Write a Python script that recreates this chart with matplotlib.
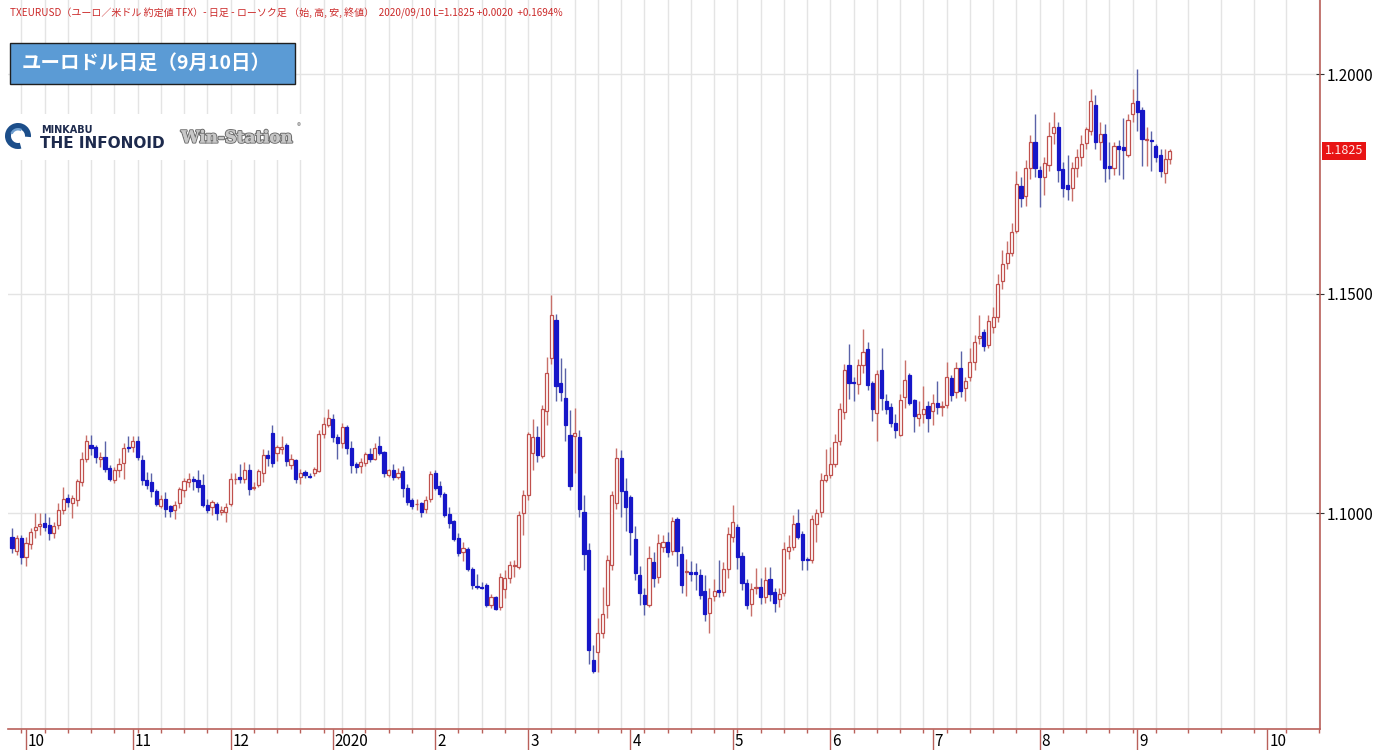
import matplotlib
matplotlib.use("Agg")
import matplotlib.pyplot as plt
import matplotlib.patches as mpatches
import matplotlib.patheffects as pe
import matplotlib.transforms as mtrans
import pandas as pd

plt.rcParams['font.family'] = ['Noto Sans CJK JP', 'DejaVu Sans']

# trading days on the chart (TFX: closed on 2020-01-01)
dates = pd.bdate_range("2019-09-26", "2020-09-10").drop(pd.Timestamp("2020-01-01"))

opens = [
    1.0945, 1.0914, 1.0944,
    # Oct
    1.0900, 1.0929, 1.0962, 1.0970, 1.0978, 1.0972, 1.0954, 1.0973, 1.1006, 1.1035, 1.1022, 1.1030,
    1.1070, 1.1123, 1.1155, 1.1150, 1.1124, 1.1128, 1.1102, 1.1075, 1.1098, 1.1113, 1.1151,
    # Nov
    1.1151, 1.1163, 1.1121, 1.1075, 1.1070, 1.1051, 1.1017, 1.1032, 1.1015, 1.1006, 1.1022, 1.1053,
    1.1070, 1.1078, 1.1075, 1.1064, 1.1018, 1.1013, 1.1021, 1.1003, 1.1003,
    # Dec
    1.1021, 1.1077, 1.1083, 1.1077, 1.1099, 1.1056, 1.1064, 1.1090, 1.1132, 1.1183, 1.1136, 1.1146,
    1.1155, 1.1109, 1.1121, 1.1083, 1.1093, 1.1084, 1.1092, 1.1096, 1.1180, 1.1200,
    # Jan
    1.1213, 1.1174, 1.1159, 1.1197, 1.1147, 1.1112, 1.1108, 1.1115, 1.1135, 1.1124, 1.1153, 1.1139,
    1.1087, 1.1097, 1.1083, 1.1096, 1.1056, 1.1030, 1.1020, 1.1023, 1.1008, 1.1031,
    # Feb
    1.1090, 1.1061, 1.1043, 1.0998, 1.0982, 1.0942, 1.0912, 1.0917, 1.0872, 1.0833, 1.0831, 1.0836,
    1.0790, 1.0809, 1.0786, 1.0828, 1.0851, 1.0880, 1.0878, 1.0999,
    # Mar
    1.1041, 1.1136, 1.1174, 1.1130, 1.1232, 1.1352, 1.1440, 1.1297, 1.1261, 1.1178, 1.1175, 1.1174,
    1.1003, 1.0916, 1.0665, 1.0684, 1.0727, 1.0790, 1.0882, 1.1023, 1.1125, 1.1049,
    # Apr
    1.1036, 1.0940, 1.0859, 1.0813, 1.0790, 1.0889, 1.0855, 1.0922, 1.0935, 1.0914, 1.0986, 1.0906,
    1.0865, 1.0866, 1.0866, 1.0859, 1.0822, 1.0772, 1.0811, 1.0824, 1.0821, 1.0872,
    # May
    1.0946, 1.0969, 1.0902, 1.0840, 1.0793, 1.0830, 1.0832, 1.0808, 1.0849, 1.0821, 1.0805, 1.0817,
    1.0914, 1.0922, 1.0978, 1.0952, 1.0895, 1.0894, 1.0976, 1.1003, 1.1075,
    # Jun
    1.1087, 1.1112, 1.1165, 1.1231, 1.1337, 1.1298, 1.1294, 1.1337, 1.1373, 1.1295, 1.1227, 1.1326,
    1.1256, 1.1241, 1.1206, 1.1178, 1.1265, 1.1314, 1.1257, 1.1217, 1.1225, 1.1244,
    # Jul
    1.1233, 1.1250, 1.1242, 1.1246, 1.1307, 1.1276, 1.1330, 1.1284, 1.1310, 1.1345, 1.1398, 1.1413,
    1.1383, 1.1424, 1.1446, 1.1529, 1.1570, 1.1592, 1.1643, 1.1745, 1.1722, 1.1787, 1.1846,
    # Aug
    1.1781, 1.1766, 1.1793, 1.1866, 1.1880, 1.1783, 1.1747, 1.1740, 1.1785, 1.1810, 1.1842, 1.1871,
    1.1929, 1.1844, 1.1863, 1.1790, 1.1787, 1.1836, 1.1833, 1.1816, 1.1910,
    # Sep
    1.1939, 1.1918, 1.1850, 1.1849, 1.1836, 1.1815, 1.1775, 1.1806,
]

highs = [
    1.0965, 1.0950, 1.0950,
    1.0945, 1.0965, 1.0999, 1.0999, 1.0999, 1.0992, 1.0980, 1.1022, 1.1059, 1.1043, 1.1040, 1.1078,
    1.1139, 1.1178, 1.1178, 1.1156, 1.1140, 1.1163, 1.1110, 1.1105, 1.1125, 1.1160, 1.1175,
    1.1176, 1.1176, 1.1133, 1.1093, 1.1092, 1.1055, 1.1040, 1.1047, 1.1019, 1.1028, 1.1060, 1.1080,
    1.1090, 1.1085, 1.1097, 1.1088, 1.1032, 1.1030, 1.1025, 1.1015, 1.1022,
    1.1090, 1.1092, 1.1111, 1.1116, 1.1112, 1.1070, 1.1100, 1.1146, 1.1143, 1.1200, 1.1155, 1.1175,
    1.1160, 1.1134, 1.1124, 1.1100, 1.1097, 1.1090, 1.1104, 1.1188, 1.1219, 1.1238,
    1.1226, 1.1180, 1.1206, 1.1200, 1.1165, 1.1117, 1.1125, 1.1139, 1.1147, 1.1160, 1.1175, 1.1142,
    1.1101, 1.1111, 1.1102, 1.1107, 1.1065, 1.1035, 1.1031, 1.1026, 1.1039, 1.1096,
    1.1097, 1.1072, 1.1047, 1.1014, 1.0984, 1.0955, 1.0933, 1.0922, 1.0878, 1.0862, 1.0843, 1.0841,
    1.0815, 1.0812, 1.0863, 1.0871, 1.0891, 1.0892, 1.1005, 1.1053,
    1.1185, 1.1214, 1.1199, 1.1247, 1.1356, 1.1497, 1.1454, 1.1354, 1.1330, 1.1235, 1.1240, 1.1190,
    1.1042, 1.0932, 1.0700, 1.0760, 1.0832, 1.0905, 1.1050, 1.1148, 1.1144, 1.1080,
    1.1040, 1.0970, 1.0880, 1.0830, 1.0925, 1.0912, 1.0952, 1.0950, 1.0956, 1.0990, 1.0990, 1.0925,
    1.0895, 1.0890, 1.0885, 1.0872, 1.0858, 1.0830, 1.0850, 1.0893, 1.0888, 1.0969,
    1.1019, 1.0975, 1.0912, 1.0850, 1.0840, 1.0875, 1.0852, 1.0877, 1.0878, 1.0830, 1.0830, 1.0935,
    1.0950, 1.0996, 1.1008, 1.0960, 1.0900, 1.0995, 1.1010, 1.1090, 1.1146,
    1.1150, 1.1180, 1.1250, 1.1340, 1.1385, 1.1310, 1.1350, 1.1418, 1.1390, 1.1300, 1.1325, 1.1376,
    1.1270, 1.1250, 1.1225, 1.1270, 1.1349, 1.1320, 1.1260, 1.1255, 1.1290, 1.1255,
    1.1270, 1.1300, 1.1255, 1.1345, 1.1315, 1.1345, 1.1370, 1.1310, 1.1375, 1.1405, 1.1450, 1.1420,
    1.1450, 1.1470, 1.1545, 1.1600, 1.1620, 1.1660, 1.1780, 1.1765, 1.1805, 1.1860, 1.1909,
    1.1790, 1.1810, 1.1890, 1.1914, 1.1890, 1.1800, 1.1815, 1.1800, 1.1830, 1.1860, 1.1880, 1.1966,
    1.1952, 1.1890, 1.1885, 1.1845, 1.1845, 1.1850, 1.1900, 1.1910, 1.1965,
    1.2011, 1.1925, 1.1880, 1.1870, 1.1840, 1.1830, 1.1830, 1.1830,
]

lows = [
    1.0908, 1.0905, 1.0883,
    1.0879, 1.0918, 1.0944, 1.0950, 1.0958, 1.0939, 1.0943, 1.0963, 1.0998, 1.1014, 1.0988, 1.1016,
    1.1062, 1.1116, 1.1132, 1.1115, 1.1105, 1.1093, 1.1072, 1.1068, 1.1083, 1.1078, 1.1138,
    1.1140, 1.1120, 1.1064, 1.1055, 1.1036, 1.1015, 1.1012, 1.0991, 1.0990, 1.0986, 1.1011, 1.1036,
    1.1060, 1.1052, 1.1048, 1.1013, 1.1000, 1.0995, 1.0983, 1.0995, 1.0980,
    1.1015, 1.1066, 1.1068, 1.1068, 1.1040, 1.1052, 1.1060, 1.1071, 1.1106, 1.1104, 1.1118, 1.1134,
    1.1106, 1.1100, 1.1068, 1.1065, 1.1080, 1.1080, 1.1085, 1.1094, 1.1170, 1.1196,
    1.1161, 1.1124, 1.1149, 1.1134, 1.1090, 1.1090, 1.1092, 1.1107, 1.1117, 1.1120, 1.1133, 1.1082,
    1.1082, 1.1076, 1.1078, 1.1036, 1.1019, 1.1010, 1.1006, 1.0992, 1.1000, 1.1025,
    1.1052, 1.1036, 1.0990, 1.0965, 1.0937, 1.0903, 1.0891, 1.0868, 1.0827, 1.0827, 1.0826, 1.0787,
    1.0784, 1.0778, 1.0778, 1.0806, 1.0840, 1.0855, 1.0873, 1.0950,
    1.1030, 1.1098, 1.1116, 1.1126, 1.1200, 1.1340, 1.1255, 1.1255, 1.1165, 1.1052, 1.1092, 1.0990,
    1.0870, 1.0655, 1.0636, 1.0638, 1.0715, 1.0760, 1.0870, 1.1010, 1.0990, 1.0960,
    1.0905, 1.0848, 1.0790, 1.0767, 1.0785, 1.0832, 1.0840, 1.0912, 1.0900, 1.0905, 1.0880, 1.0818,
    1.0812, 1.0845, 1.0825, 1.0805, 1.0755, 1.0727, 1.0800, 1.0808, 1.0810, 1.0852,
    1.0935, 1.0873, 1.0825, 1.0782, 1.0766, 1.0815, 1.0793, 1.0796, 1.0800, 1.0775, 1.0787, 1.0810,
    1.0895, 1.0915, 1.0940, 1.0870, 1.0871, 1.0885, 1.0935, 1.0990, 1.1070,
    1.1080, 1.1105, 1.1155, 1.1213, 1.1260, 1.1255, 1.1270, 1.1320, 1.1280, 1.1210, 1.1165, 1.1235,
    1.1225, 1.1195, 1.1170, 1.1175, 1.1240, 1.1245, 1.1185, 1.1198, 1.1205, 1.1185,
    1.1200, 1.1225, 1.1220, 1.1240, 1.1255, 1.1262, 1.1265, 1.1255, 1.1300, 1.1325, 1.1385, 1.1370,
    1.1375, 1.1410, 1.1435, 1.1510, 1.1555, 1.1585, 1.1637, 1.1698, 1.1700, 1.1760, 1.1765,
    1.1696, 1.1725, 1.1780, 1.1840, 1.1755, 1.1720, 1.1713, 1.1710, 1.1765, 1.1790, 1.1830, 1.1860,
    1.1830, 1.1805, 1.1755, 1.1760, 1.1770, 1.1770, 1.1760, 1.1810, 1.1890,
    1.1870, 1.1790, 1.1790, 1.1780, 1.1800, 1.1765, 1.1752, 1.1795,
]

closes = [
    1.0920, 1.0942, 1.0900,
    1.0932, 1.0957, 1.0969, 1.0976, 1.0969, 1.0955, 1.0971, 1.1007, 1.1033, 1.1024, 1.1034, 1.1073,
    1.1123, 1.1163, 1.1148, 1.1127, 1.1128, 1.1100, 1.1077, 1.1099, 1.1111, 1.1147, 1.1148,
    1.1163, 1.1127, 1.1075, 1.1064, 1.1049, 1.1021, 1.1032, 1.1008, 1.1004, 1.1019, 1.1055, 1.1072,
    1.1077, 1.1072, 1.1060, 1.1018, 1.1006, 1.1024, 1.1001, 1.1007, 1.1013,
    1.1077, 1.1078, 1.1077, 1.1099, 1.1055, 1.1060, 1.1095, 1.1132, 1.1126, 1.1115, 1.1151, 1.1150,
    1.1118, 1.1122, 1.1077, 1.1092, 1.1086, 1.1083, 1.1100, 1.1180, 1.1203, 1.1216,
    1.1172, 1.1160, 1.1197, 1.1148, 1.1109, 1.1104, 1.1117, 1.1134, 1.1124, 1.1147, 1.1137, 1.1092,
    1.1097, 1.1083, 1.1092, 1.1056, 1.1026, 1.1015, 1.1021, 1.1003, 1.1030, 1.1089,
    1.1058, 1.1043, 1.0995, 1.0977, 1.0940, 1.0909, 1.0920, 1.0872, 1.0836, 1.0831, 1.0830, 1.0790,
    1.0809, 1.0782, 1.0855, 1.0851, 1.0882, 1.0882, 1.0995, 1.1041,
    1.1180, 1.1172, 1.1131, 1.1236, 1.1319, 1.1451, 1.1289, 1.1276, 1.1200, 1.1062, 1.1183, 1.1008,
    1.0907, 1.0688, 1.0640, 1.0727, 1.0770, 1.0893, 1.1041, 1.1125, 1.1049, 1.1014,
    1.0957, 1.0863, 1.0818, 1.0793, 1.0897, 1.0851, 1.0931, 1.0935, 1.0912, 1.0982, 1.0914, 1.0836,
    1.0867, 1.0862, 1.0860, 1.0813, 1.0770, 1.0806, 1.0822, 1.0820, 1.0872, 1.0952,
    1.0980, 1.0899, 1.0840, 1.0790, 1.0828, 1.0831, 1.0809, 1.0847, 1.0816, 1.0795, 1.0815, 1.0917,
    1.0923, 1.0976, 1.0946, 1.0894, 1.0893, 1.0986, 1.0999, 1.1075, 1.1087,
    1.1112, 1.1162, 1.1236, 1.1326, 1.1297, 1.1296, 1.1337, 1.1367, 1.1292, 1.1238, 1.1317, 1.1261,
    1.1238, 1.1206, 1.1188, 1.1257, 1.1303, 1.1250, 1.1221, 1.1225, 1.1237, 1.1216,
    1.1250, 1.1241, 1.1243, 1.1310, 1.1269, 1.1330, 1.1278, 1.1301, 1.1345, 1.1390, 1.1403, 1.1380,
    1.1438, 1.1446, 1.1522, 1.1567, 1.1592, 1.1639, 1.1749, 1.1717, 1.1787, 1.1846, 1.1787,
    1.1766, 1.1797, 1.1859, 1.1880, 1.1781, 1.1740, 1.1737, 1.1787, 1.1812, 1.1841, 1.1874, 1.1939,
    1.1846, 1.1863, 1.1787, 1.1787, 1.1835, 1.1829, 1.1826, 1.1895, 1.1933,
    1.1914, 1.1851, 1.1853, 1.1848, 1.1810, 1.1780, 1.1806, 1.1825,
]

price_ticks = [1.10, 1.15, 1.20]
header = ("TXEURUSD（ユーロ／米ドル 約定値 TFX）- 日足 - ローソク足 （始, 高, 安, 終値）  "
          "2020/09/10 L=1.1825 +0.0020  +0.1694%")
title = "ユーロドル日足（9月10日）"

# colours
up_col = "#c0504d"
up_wick = "#c8706a"
dn_col = "#1616c8"
dn_wick = "#5a62a8"
grid_col = "#e4e4e4"
spine_col = "#b9605a"

W, H = 1393, 750
fig = plt.figure(figsize=(W / 100, H / 100), dpi=100)
fig.patch.set_facecolor("white")

ax_l, ax_r, ax_b = 8, 1320, 729
ax = fig.add_axes([ax_l / W, (H - ax_b) / H, (ax_r - ax_l) / W, ax_b / H])
px_day = 4.65
xlim = ((ax_l - 12) / px_day, (ax_r - 12) / px_day)
ylim = (1.1 - (ax_b - 513) / 4390, 1.1 + 513 / 4390)

n = len(closes)
xs = list(range(n))
last = dates[-1]

# weekly grid on Mondays (+ future calendar area)
mondays = [i for i, d in enumerate(dates) if d.weekday() == 0]
fut = pd.date_range(last + pd.Timedelta(days=1), "2020-10-12")
fut_mondays = [(n - 1) + (d - last).days for d in fut if d.weekday() == 0]
for xm in mondays + fut_mondays:
    ax.axvline(xm, color=grid_col, lw=1, zorder=0)
for p in price_ticks:
    ax.axhline(p, color=grid_col, lw=1, zorder=0)

# candles
for i in xs:
    o, h, l, c = opens[i], highs[i], lows[i], closes[i]
    up = c > o
    ax.vlines(i, l, h, color=up_wick if up else dn_wick, lw=1, zorder=2)
    bottom = min(o, c)
    height = max(abs(c - o), 0.00006)
    if up:
        ax.bar(i, height, width=0.68, bottom=bottom, facecolor="white",
               edgecolor=up_col, linewidth=0.9, zorder=3)
    else:
        ax.bar(i, height, width=0.68, bottom=bottom, facecolor=dn_col,
               edgecolor=dn_col, linewidth=0.9, zorder=3)

# spines
for s in ["top", "left"]:
    ax.spines[s].set_visible(False)
for s in ["right", "bottom"]:
    ax.spines[s].set_color(spine_col)
    ax.spines[s].set_linewidth(1.2)

# right price axis
ax.yaxis.tick_right()
ax.set_yticks(price_ticks)
ax.set_yticklabels([f"{p:.4f}" for p in price_ticks])
ax.tick_params(axis="y", direction="inout", length=6, width=0.8, color="#333333",
               labelsize=11, pad=2, labelcolor="black")

# month ticks and labels
month_pos, month_lab = [], []
for i, d in enumerate(dates):
    if i == 0 or d.month != dates[i - 1].month:
        if i == 0 and d.day > 5:
            continue
        month_pos.append(i)
        month_lab.append("2020" if (d.month == 1 and d.year == 2020) else str(d.month))
for d in fut:
    if d.day == 1:
        month_pos.append((n - 1) + (d - last).days)
        month_lab.append(str(d.month))

ax.set_xticks(month_pos)
ax.set_xticklabels([])
ax.set_xticks(mondays + fut_mondays, minor=True)
ax.tick_params(axis="x", which="major", direction="out", length=16, width=1,
               color=spine_col)
ax.tick_params(axis="x", which="minor", direction="out", length=3, width=1,
               color=spine_col)
lab_tr = mtrans.offset_copy(ax.get_xaxis_transform(), fig=fig, x=2, y=-12, units="dots")
for xp, lab in zip(month_pos, month_lab):
    ax.text(xp, 0, lab, transform=lab_tr, ha="left", va="center",
            fontsize=11, color="black", clip_on=False)

# limits last, so that tick setting cannot widen them
ax.set_xlim(*xlim)
ax.set_ylim(*ylim)

# last price tag
tag_tr = mtrans.offset_copy(ax.get_yaxis_transform(), fig=fig, x=5, y=0, units="dots")
ax.text(1, closes[-1], f"{closes[-1]:.4f}", transform=tag_tr, ha="left", va="center",
        fontsize=9, color="#ffe8e8", clip_on=False,
        bbox=dict(boxstyle="square,pad=0.22", facecolor="#e81414", edgecolor="none"))

# overlay in pixel coordinates for header, title box, logo
ov = fig.add_axes([0, 0, 1, 1], zorder=5)
ov.set_xlim(0, W)
ov.set_ylim(H, 0)
ov.axis("off")

ov.text(10, 13, header, fontsize=7.2, color="#cc2b2b", va="center", ha="left")

ov.add_patch(mpatches.Rectangle((10, 43), 285, 41, facecolor="#5b9bd5",
                                edgecolor="#1f1f1f", lw=1))
ov.text(22, 63.5, title, fontsize=14, fontweight="bold", color="white",
        va="center", ha="left")

ov.add_patch(mpatches.Rectangle((0, 114), 304, 46, facecolor="white", edgecolor="none"))
ov.add_patch(mpatches.Wedge((18, 136), 13, 75, 365, width=6, facecolor="#1c4e8a",
                            edgecolor="none"))
ov.add_patch(mpatches.Wedge((18, 136), 8, 200, 300, width=2.5, facecolor="#6f9fd0",
                            edgecolor="none"))
ov.text(41, 130, "MINKABU", fontsize=7, fontweight="bold", color="#1d2a4d",
        family="DejaVu Sans", va="center", ha="left")
ov.text(40, 143.5, "THE INFONOID", fontsize=11, fontweight="bold", color="#1d2a4d",
        family="DejaVu Sans", va="center", ha="left")
ov.text(181, 138, "Win-Station", fontsize=12, fontweight="bold", color="#c8c8c8",
        family="DejaVu Serif", va="center", ha="left",
        path_effects=[pe.withStroke(linewidth=1.6, foreground="#707070"),
                      pe.Normal()])
ov.text(297, 127, "®", fontsize=6, color="#888888", va="center", ha="left")

fig.savefig("out.png", dpi=100, facecolor="white")
